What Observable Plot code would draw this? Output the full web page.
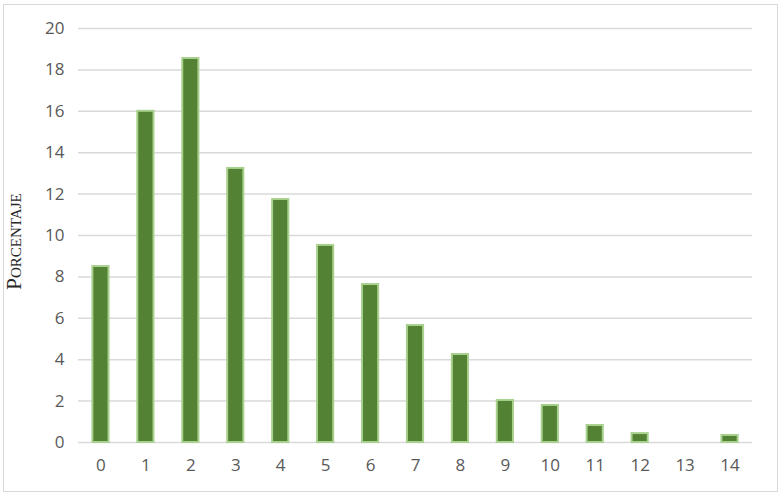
<!DOCTYPE html>
<html>
<head>
<meta charset="utf-8">
<script src="https://cdn.jsdelivr.net/npm/d3@7"></script>
<script src="https://cdn.jsdelivr.net/npm/@observablehq/plot@0.6"></script>
<style>
  body { margin: 0; background: #fff; }
  #wrap { position: relative; width: 780px; height: 494px; }
  #border { position: absolute; left: 3px; top: 4px; width: 773px; height: 486px; border: 1px solid #d9d9d9; pointer-events: none; }
</style>
</head>
<body>
<div id="wrap"><div id="border"></div></div>
<script>
const categories = ["0","1","2","3","4","5","6","7","8","9","10","11","12","13","14"];
const values = [8.5, 16.0, 18.55, 13.24, 11.74, 9.52, 7.63, 5.65, 4.25, 2.03, 1.79, 0.82, 0.43, 0, 0.34];
const yTicks = [0, 2, 4, 6, 8, 10, 12, 14, 16, 18, 20];
const yLabel = "Porcentaje";

const data = categories.map((c, i) => ({cat: c, value: values[i]}));

const chart = Plot.plot({
  width: 780,
  height: 494,
  marginTop: 28,
  marginBottom: 52,
  marginLeft: 78,
  marginRight: 28,
  style: {fontFamily: "'Open Sans', 'Liberation Sans', sans-serif", fontSize: "17px", color: "#595959", background: "transparent"},
  x: {domain: categories, paddingInner: 0.64, paddingOuter: 0.32, round: false},
  y: {domain: [0, 20]},
  marks: [
    Plot.gridY(yTicks, {stroke: "#d9d9d9", strokeOpacity: 1, strokeWidth: 1.5}),
    Plot.barY(data, {x: "cat", y: "value", fill: "#548235", stroke: "#a9d18e", strokeWidth: 2}),
    Plot.axisX({tickSize: 0, tickPadding: 16, label: null}),
    Plot.axisY(yTicks, {tickSize: 0, tickPadding: 14, label: yLabel, labelAnchor: "center", labelOffset: 72})
  ]
});

const svg = d3.select(chart);
svg.selectAll("[aria-label='x-axis tick label'] text, [aria-label='y-axis tick label'] text")
  .style("font-size", "17px")
  .style("font-family", "'Open Sans', sans-serif")
  .style("fill", "#595959");

svg.selectAll("[aria-label='y-axis label'] text")
  .text(yLabel)
  .attr("dx", -6)
  .style("font-family", "'Liberation Serif', 'DejaVu Serif', serif")
  .style("font-variant", "small-caps")
  .style("font-size", "21px")
  .style("fill", "#262626");

document.getElementById("wrap").prepend(chart);
</script>
</body>
</html>
